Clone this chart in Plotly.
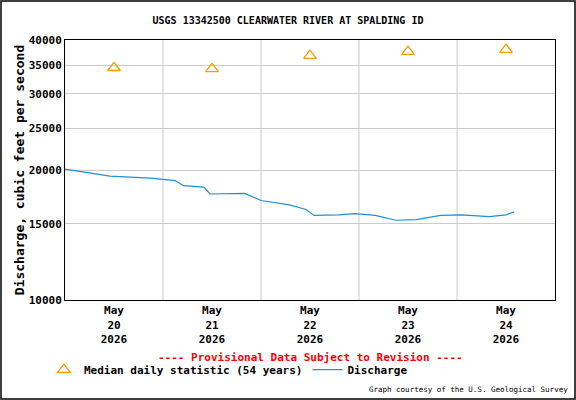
import plotly.graph_objects as go
import pandas as pd

median_dates = ["2026-05-20 12:00", "2026-05-21 12:00", "2026-05-22 12:00", "2026-05-23 12:00", "2026-05-24 12:00"]
median_values = [34500, 34300, 36800, 37600, 38000]

q_hours = [0, 11, 21, 27, 29, 34, 35.5, 44, 48, 55, 59, 61, 67, 71, 76, 81, 86, 92, 97, 104, 108, 110]
q_values = [20100, 19350, 19150, 18900, 18400, 18250, 17600, 17650, 17000, 16600, 16200, 15700,
            15750, 15850, 15700, 15300, 15350, 15700, 15750, 15600, 15750, 16000]

start = pd.Timestamp("2026-05-20 00:00")
q_dates = [start + pd.Timedelta(hours=h) for h in q_hours]

tick_vals = ["2026-05-20 12:00", "2026-05-21 12:00", "2026-05-22 12:00", "2026-05-23 12:00", "2026-05-24 12:00"]
tick_text = ["<b>May<br>20<br>2026</b>", "<b>May<br>21<br>2026</b>", "<b>May<br>22<br>2026</b>",
             "<b>May<br>23<br>2026</b>", "<b>May<br>24<br>2026</b>"]
y_ticks = [10000, 15000, 20000, 25000, 30000, 35000, 40000]

font = "DejaVu Sans Mono"
fig = go.Figure()
fig.add_trace(go.Scatter(x=median_dates, y=median_values, mode="markers",
                         marker=dict(symbol="triangle-up-open", size=11, color="#f5a000", line=dict(width=1.3)),
                         name="<b>Median daily statistic (54 years)</b>"))
fig.add_trace(go.Scatter(x=q_dates, y=q_values, mode="lines", line=dict(color="#1f8fd8", width=1.2),
                         name="<b>Discharge</b>"))

for d in ["2026-05-21", "2026-05-22", "2026-05-23", "2026-05-24"]:
    fig.add_shape(type="line", xref="x", yref="paper", x0=d, x1=d, y0=0, y1=1,
                  line=dict(color="#cccccc", width=1), layer="below")

fig.add_shape(type="rect", xref="paper", yref="paper", x0=-64/490, x1=1+20/490, y0=-99/260, y1=1+39/260,
              line=dict(color="black", width=1.5))

fig.update_layout(
    width=576, height=400, margin=dict(l=65, r=21, t=40, b=100, autoexpand=False),
    paper_bgcolor="white", plot_bgcolor="white",
    font=dict(family=font, size=11, color="black"),
    title=dict(text="<b>USGS 13342500 CLEARWATER RIVER AT SPALDING ID</b>", x=0.5, xanchor="center",
               y=0.95, yanchor="middle", font=dict(size=10)),
    xaxis=dict(type="date", range=["2026-05-20 00:00", "2026-05-25 00:00"], tickvals=tick_vals,
               ticktext=tick_text, showgrid=False, showline=True, linecolor="black", mirror=True,
               ticks="", tickfont=dict(size=11), automargin=False),
    yaxis=dict(type="log", range=[4, 4.60206], tickvals=y_ticks, ticktext=[f"<b>{v}</b>" for v in y_ticks],
               showgrid=True, gridcolor="#cccccc", showline=True, linecolor="black", mirror=True,
               ticks="", title=dict(text="<b>Discharge, cubic feet per second</b>", standoff=1),
               tickfont=dict(size=11), automargin=False),
    legend=dict(orientation="h", x=-0.043, y=-0.212, xanchor="left", yanchor="top",
                font=dict(size=11), itemwidth=30, bgcolor="rgba(0,0,0,0)"),
    showlegend=True,
)
fig.add_annotation(text="<b>---- Provisional Data Subject to Revision ----</b>", xref="paper", yref="paper",
                   x=0.5, y=-0.19, yanchor="top", showarrow=False, font=dict(color="red", size=11))
fig.add_annotation(text="Graph courtesy of the U.S. Geological Survey", xref="paper", yref="paper",
                   x=1.03, y=-0.32, yanchor="top", xanchor="right", showarrow=False, font=dict(size=7.5))
fig.write_html("out.html", config={"displayModeBar": False}, post_script="document.body.style.margin='0';")
